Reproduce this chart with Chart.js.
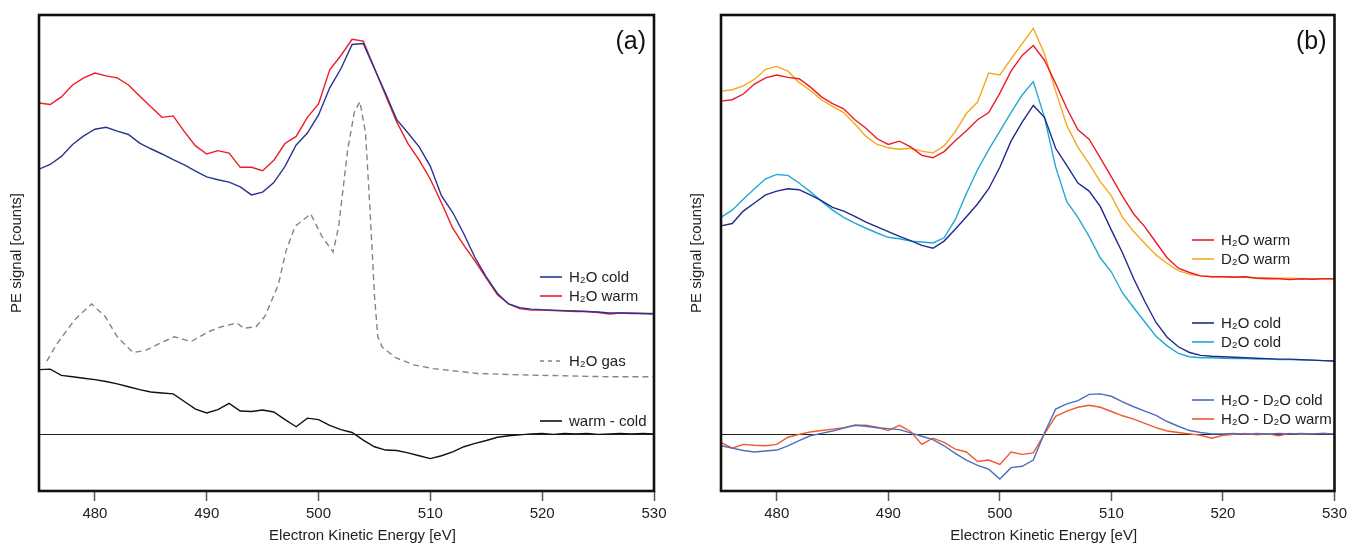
<!DOCTYPE html>
<html>
<head>
<meta charset="utf-8">
<script src="https://cdn.jsdelivr.net/npm/chart.js@4.4.1/dist/chart.umd.min.js"></script>
<style>
  html, body { margin: 0; padding: 0; background: #fff; }
  #wrap { position: relative; width: 1351px; height: 545px; overflow: hidden; }
  canvas { position: absolute; top: 0; }
  #graph0 { left: 0; }
  #graph1 { left: 680px; }
</style>
</head>
<body>
<div id="wrap">
  <canvas id="graph0" width="680" height="545" style="width:680px;height:545px"></canvas>
  <canvas id="graph1" width="671" height="545" style="width:671px;height:545px"></canvas>
</div>
<script>
// energies in eV, values in arbitrary offset units (0 = baseline of the difference curves)
const energy = [475,476,477,478,479,480,481,482,483,484,485,486,487,488,489,490,491,492,493,494,
  495,496,497,498,499,500,501,502,503,504,505,506,507,508,509,510,511,512,513,514,
  515,516,517,518,519,520,521,522,523,524,525,526,527,528,529,530];
const tickValues = [480, 490, 500, 510, 520, 530];

// panel (a)
const h2oColdA = [55.6,56.6,58.3,60.8,62.6,64.0,64.4,63.6,62.9,61.1,59.9,58.8,57.6,56.5,55.2,54.0,53.4,52.9,51.9,50.2,
  50.8,52.8,56.2,60.7,63.2,67.0,72.7,76.7,81.8,82.0,76.7,71.5,66.0,63.2,60.3,56.2,50.0,46.5,42.0,37.0,
  33.0,29.5,27.3,26.5,26.2,26.1,26.0,25.9,25.8,25.7,25.6,25.4,25.4,25.3,25.3,25.2];
const h2oWarmA = [69.5,69.2,70.8,73.3,74.8,75.8,75.2,74.8,73.3,71.0,68.7,66.5,66.8,63.5,60.5,58.8,59.5,59.0,56.0,56.0,
  55.3,57.5,61.0,62.5,66.5,69.3,76.5,79.5,82.9,82.5,76.8,71.1,65.5,61.0,57.5,53.5,48.5,43.2,39.6,36.3,
  32.7,29.2,27.3,26.3,26.0,26.0,25.9,25.8,25.7,25.7,25.5,25.2,25.4,25.4,25.3,25.3];
const gasEnergy = [475.7,476.6,478.2,479.7,480.9,482.0,483.4,484.5,485.7,487.1,488.6,490.2,491.3,492.7,493.3,494.4,
  495.2,496.4,497.1,497.9,499.3,500.3,501.3,501.8,502.6,503.2,503.7,504.2,504.6,505.0,505.3,505.7,
  506.9,508.5,510.3,514.2,518.1,522.0,525.8,530.0];
const h2oGas = [15.3,18.9,24.0,27.3,24.7,20.4,17.1,17.5,18.9,20.4,19.4,21.5,22.5,23.3,22.2,22.5,
  24.7,31.3,38.5,43.6,46.2,41.5,38.2,43.6,59.6,67.6,69.8,63.3,47.3,29.1,20.4,18.2,
  16.0,14.5,13.7,12.7,12.4,12.2,12.0,12.0];
const warmMinusCold = [13.5,13.6,12.3,12.0,11.7,11.4,11.0,10.5,9.9,9.3,8.8,8.6,8.4,6.8,5.2,4.4,5.1,6.4,4.8,4.7,
  5.0,4.6,3.0,1.5,3.3,3.0,1.8,0.9,0.3,-1.3,-2.7,-3.4,-3.5,-4.0,-4.6,-5.2,-4.6,-3.8,-2.7,-2.0,
  -1.4,-0.7,-0.4,-0.2,0.0,0.1,-0.1,0.1,0.0,0.1,-0.1,0.0,0.1,0.0,0.1,0.0];

// panel (b)
const h2oWarmB = [69.9,70.2,71.4,73.5,74.8,75.4,74.9,74.6,72.9,70.8,69.4,68.3,66.0,64.2,62.0,60.8,61.5,60.3,58.5,58.0,
  59.3,61.6,63.7,66.0,67.5,71.6,76.2,79.5,81.6,78.5,73.6,68.4,63.9,61.9,58.0,54.0,49.9,46.2,43.5,40.2,
  37.0,34.8,33.9,33.2,33.0,33.0,32.9,33.0,32.7,32.6,32.6,32.4,32.6,32.5,32.6,32.6];
const d2oWarmB = [72.0,72.3,73.1,74.5,76.6,77.2,76.2,73.8,72.2,70.2,68.8,67.5,65.1,62.5,60.8,60.1,59.8,60.0,59.4,59.0,
  60.5,63.5,67.3,69.7,75.8,75.4,78.8,82.0,85.2,79.8,72.0,64.8,60.2,56.8,53.0,50.0,45.5,42.5,40.0,37.6,
  35.8,34.3,33.5,33.2,33.0,33.0,33.0,32.9,32.8,32.8,32.7,32.7,32.6,32.6,32.6,32.6];
const h2oColdB = [43.7,44.2,46.8,48.5,50.2,51.0,51.5,51.3,50.2,49.0,47.6,46.8,45.7,44.5,43.5,42.5,41.5,40.6,39.6,39.0,
  40.5,43.0,45.6,48.3,51.5,56.0,61.5,65.5,69.0,66.5,60.0,56.4,52.7,51.0,47.8,42.8,38.0,32.6,27.8,23.4,
  20.3,18.3,17.1,16.5,16.3,16.2,16.1,16.0,15.9,15.8,15.7,15.7,15.6,15.5,15.4,15.3];
const d2oColdB = [45.5,47.0,49.3,51.5,53.6,54.5,54.3,52.7,50.9,48.9,47.0,45.5,44.3,43.2,42.2,41.3,41.0,40.5,40.3,40.1,
  41.2,45.0,50.5,55.5,59.7,63.6,67.5,71.2,74.0,66.5,56.1,48.8,45.5,41.5,37.0,34.0,29.6,26.5,23.5,20.5,
  18.5,16.9,16.2,16.0,16.0,15.9,15.8,15.8,15.7,15.7,15.6,15.6,15.5,15.5,15.4,15.3];
const diffColdB = [-2.5,-3.0,-3.5,-3.8,-3.6,-3.4,-2.5,-1.4,-0.4,0.1,0.6,1.2,1.8,1.6,1.3,1.1,0.9,0.2,-0.5,-1.2,
  -2.5,-4.1,-5.5,-6.6,-7.4,-9.5,-7.1,-6.8,-5.5,0.2,5.2,6.3,7.0,8.3,8.4,7.9,6.7,5.7,4.8,3.9,
  2.6,1.6,0.7,0.3,0.0,0.0,0.1,-0.1,0.1,0.0,0.1,0.0,0.1,0.0,0.1,0.0];
const diffWarmB = [-1.8,-3.0,-2.2,-2.4,-2.5,-2.2,-0.7,-0.1,0.4,0.7,1.0,1.3,1.8,1.8,1.4,0.7,1.8,0.5,-2.2,-0.9,
  -1.8,-3.2,-3.8,-5.8,-5.5,-6.4,-3.8,-4.3,-4.0,0.0,3.7,4.8,5.6,6.0,5.6,4.7,3.8,3.1,2.2,1.3,
  0.6,0.3,0.0,-0.3,-0.9,-0.3,-0.1,0.1,-0.2,0.0,-0.4,0.1,-0.1,0.0,0.1,0.0];

const fontFamily = '"Liberation Sans", Arial, Helvetica, sans-serif';

function pts(xs, ys){
    return xs.map((x, i) => ({x: x, y: ys[i]}));
}

function line(label, xs, ys, color, dash){
    return {
        label: label,
        data: pts(xs, ys),
        borderColor: color,
        borderWidth: 1.4,
        borderDash: dash || [],
        pointRadius: 0,
        tension: 0,
        fill: false
    };
}

// frame, zero line, panel letter, axis titles and in-plot legend
const panelDecor = {
    id: 'panelDecor',
    beforeDatasetsDraw(chart){
        const {ctx, chartArea: a, scales: {y}} = chart;
        const y0 = Math.round(y.getPixelForValue(0)) + 0.5;
        ctx.save();
        ctx.strokeStyle = '#222';
        ctx.lineWidth = 1;
        ctx.beginPath();
        ctx.moveTo(a.left, y0);
        ctx.lineTo(a.right, y0);
        ctx.stroke();
        ctx.restore();
    },
    afterDraw(chart, args, opts){
        const {ctx, chartArea: a} = chart;
        ctx.save();
        ctx.strokeStyle = '#111';
        ctx.lineWidth = 2.6;
        ctx.strokeRect(a.left, a.top, a.right - a.left, a.bottom - a.top);

        ctx.fillStyle = '#111';
        ctx.font = '25px ' + fontFamily;
        ctx.textAlign = 'right';
        ctx.textBaseline = 'middle';
        ctx.fillText(opts.letter, a.right - 8, a.top + 27);

        ctx.font = '15px ' + fontFamily;
        ctx.fillStyle = '#222';
        ctx.textAlign = 'center';
        ctx.fillText('Electron Kinetic Energy [eV]', (a.left + a.right) / 2 + 16, 536);
        ctx.save();
        ctx.translate(opts.yTitleX, (a.top + a.bottom) / 2);
        ctx.rotate(-Math.PI / 2);
        ctx.fillText('PE signal [counts]', 0, 0);
        ctx.restore();

        ctx.textAlign = 'left';
        opts.legend.forEach(item => {
            ctx.strokeStyle = item.color;
            ctx.lineWidth = 1.6;
            ctx.setLineDash(item.dash || []);
            ctx.beginPath();
            ctx.moveTo(opts.legendX, item.y);
            ctx.lineTo(opts.legendX + 22, item.y);
            ctx.stroke();
            ctx.setLineDash([]);
            ctx.fillStyle = '#222';
            ctx.fillText(item.text, opts.legendX + 29, item.y + 1);
        });
        ctx.restore();
    }
};

function makeChart(id, datasets, pad, decor){
    return new Chart(id, {
        type: 'line',
        data: {datasets: datasets},
        options: {
            responsive: false,
            animation: false,
            layout: {padding: pad},
            plugins: {
                legend: {display: false},
                tooltip: {enabled: false},
                panelDecor: decor
            },
            scales: {
                x: {
                    type: 'linear',
                    min: 475,
                    max: 530,
                    afterBuildTicks: s => { s.ticks = tickValues.map(v => ({value: v})); },
                    afterFit: s => { s.height = 54; },
                    border: {display: false},
                    grid: {drawOnChartArea: false, drawTicks: true, tickLength: 10, tickColor: '#555', tickWidth: 1.5},
                    ticks: {color: '#222', padding: 4, maxRotation: 0, font: {size: 15, family: fontFamily}}
                },
                y: {
                    display: false,
                    min: -12,
                    max: 88
                }
            }
        },
        plugins: [panelDecor]
    });
}

const colors = {
    coldA: '#283593', warmA: '#ee1c25', gas: '#858585', diff: '#111111',
    warmB: '#ec1c24', d2oWarm: '#f6a81c', coldB: '#1f2b8c', d2oCold: '#21a9d3',
    diffCold: '#4a6fbf', diffWarm: '#f15a29'
};

let charts = [];

charts[0] = makeChart('graph0', [
    line('H₂O cold', energy, h2oColdA, colors.coldA),
    line('H₂O warm', energy, h2oWarmA, colors.warmA),
    line('H₂O gas', gasEnergy, h2oGas, colors.gas, [6, 4]),
    line('warm - cold', energy, warmMinusCold, colors.diff)
], {left: 39, right: 26, top: 15, bottom: 0}, {
    letter: '(a)',
    yTitleX: 17,
    legendX: 540,
    legend: [
        {text: 'H₂O cold', color: colors.coldA, y: 277},
        {text: 'H₂O warm', color: colors.warmA, y: 296},
        {text: 'H₂O gas', color: colors.gas, dash: [4, 4], y: 361},
        {text: 'warm - cold', color: colors.diff, y: 421}
    ]
});

charts[1] = makeChart('graph1', [
    line('H₂O warm', energy, h2oWarmB, colors.warmB),
    line('D₂O warm', energy, d2oWarmB, colors.d2oWarm),
    line('H₂O cold', energy, h2oColdB, colors.coldB),
    line('D₂O cold', energy, d2oColdB, colors.d2oCold),
    line('H₂O - D₂O cold', energy, diffColdB, colors.diffCold),
    line('H₂O - D₂O warm', energy, diffWarmB, colors.diffWarm)
], {left: 41, right: 14, top: 15, bottom: 0}, {
    letter: '(b)',
    yTitleX: 17,
    legendX: 512,
    legend: [
        {text: 'H₂O warm', color: colors.warmB, y: 240},
        {text: 'D₂O warm', color: colors.d2oWarm, y: 259},
        {text: 'H₂O cold', color: colors.coldB, y: 323},
        {text: 'D₂O cold', color: colors.d2oCold, y: 342},
        {text: 'H₂O - D₂O cold', color: colors.diffCold, y: 400},
        {text: 'H₂O - D₂O warm', color: colors.diffWarm, y: 419}
    ]
});
</script>
</body>
</html>
